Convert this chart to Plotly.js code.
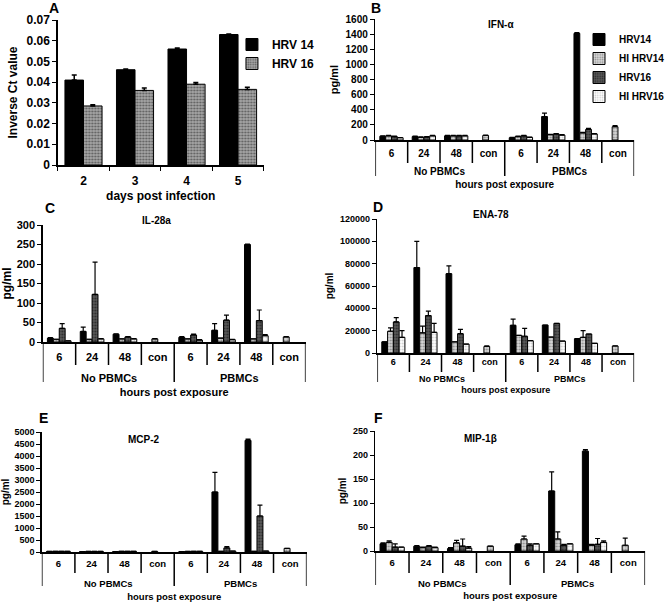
<!DOCTYPE html>
<html>
<head>
<meta charset="utf-8">
<script src="https://cdn.plot.ly/plotly-3.0.1.min.js"></script>
<style>body{margin:0;padding:0;background:#fff;} #chart{width:670px;height:605px;}</style>
</head>
<body>
<div id="chart"></div>
<script>
// ---------- DATA ----------
// Panel A
const daysLabels = ['2', '3', '4', '5'];
const A_HRV14 = [0.041, 0.046, 0.056, 0.063];
const A_HRV14_err = [0.0024, 0.0003, 0.0005, 0.0003];
const A_HRV16 = [0.0285, 0.036, 0.039, 0.0365];
const A_HRV16_err = [0.0006, 0.0012, 0.0008, 0.0010];

// Panels B-F categories
const groupLabels = ['No PBMCs','No PBMCs','No PBMCs','No PBMCs','PBMCs','PBMCs','PBMCs','PBMCs'];
const hourLabels  = ['6','24','48','con','6','24','48','con'];
const seriesNames = ['HRV14','HI HRV14','HRV16','HI HRV16'];

// B: IFN-alpha
const B_HRV14     = [50, 45, 55, null, 30, 310, 1410, null];
const B_HRV14_err = [5, 5, 5, 0, 5, 45, 10, 0];
const B_HIHRV14     = [55, 35, 55, 60, 45, 70, 95, 175];
const B_HIHRV14_err = [5, 5, 5, 5, 5, 5, 5, 15];
const B_HRV16     = [45, 40, 55, null, 55, 80, 140, null];
const B_HRV16_err = [5, 5, 5, 0, 5, 5, 15, 0];
const B_HIHRV16     = [30, 55, 55, null, 35, 65, 80, null];
const B_HIHRV16_err = [3, 5, 5, 0, 3, 5, 5, 0];

// C: IL-28a
const C_HRV14     = [10, 27, 20, null, 12, 30, 250, null];
const C_HRV14_err = [1, 11, 1, 0, 2, 17, 1, 0];
const C_HIHRV14     = [7, 7, 8, 8, 8, 10, 8, 13];
const C_HIHRV14_err = [0, 0, 0, 1, 0, 0, 0, 1];
const C_HRV16     = [35, 122, 13, null, 18, 56, 55, null];
const C_HRV16_err = [12, 83, 1, 0, 2, 13, 27, 0];
const C_HIHRV16     = [3, 8, 8, null, 5, 6, 16, null];
const C_HIHRV16_err = [0, 1, 1, 0, 1, 1, 3, 0];

// D: ENA-78
const D_HRV14     = [10000, 76500, 71000, null, 24800, 25000, 12800, null];
const D_HRV14_err = [0, 23500, 7000, 0, 5500, 0, 0, 0];
const D_HIHRV14     = [19500, 18000, 10000, 5800, 15800, 14300, 14000, 6300];
const D_HIHRV14_err = [3000, 6000, 0, 500, 0, 0, 6000, 0];
const D_HRV16     = [27800, 33500, 17300, null, 15000, 26500, 17000, null];
const D_HRV16_err = [3800, 4000, 3800, 0, 7000, 0, 0, 0];
const D_HIHRV16     = [14000, 18500, 8000, null, 11000, 10700, 8700, null];
const D_HIHRV16_err = [6000, 8000, 0, 0, 0, 0, 0, 0];

// E: MCP-2
const E_HRV14     = [25, 20, 20, null, 20, 2500, 4650, null];
const E_HRV14_err = [0, 0, 0, 0, 0, 820, 50, 0];
const E_HIHRV14     = [30, 25, 30, 25, 25, 30, 30, 150];
const E_HIHRV14_err = [0, 0, 0, 0, 0, 0, 0, 0];
const E_HRV16     = [30, 25, 30, null, 30, 170, 1500, null];
const E_HRV16_err = [0, 0, 0, 0, 0, 60, 450, 0];
const E_HIHRV16     = [30, 25, 30, null, 30, 40, 40, null];
const E_HIHRV16_err = [0, 0, 0, 0, 0, 0, 0, 0];

// F: MIP-1beta
const F_HRV14     = [15, 10, 5, null, 13, 125, 208, null];
const F_HRV14_err = [2, 1, 2, 0, 2, 40, 3, 0];
const F_HIHRV14     = [18, 7, 17, 10, 25, 25, 12, 12];
const F_HIHRV14_err = [3, 1, 5, 0, 6, 15, 2, 15];
const F_HRV16     = [8, 10, 10, null, 12, 12, 14, null];
const F_HRV16_err = [7, 1, 15, 0, 3, 2, 12, 0];
const F_HIHRV16     = [8, 7, 6, null, 15, 15, 18, null];
const F_HIHRV16_err = [0, 1, 3, 0, 0, 0, 3, 0];

// ---------- STYLE ----------
const W = 670, H = 605;
const FONT = 'Liberation Sans, Arial, sans-serif';
const styles = [
  {color: '#000000', pattern: null},
  {color: '#c4c4c4', pattern: {shape: '.', bgcolor: '#d8d8d8', fgcolor: '#8a8a8a', size: 3, solidity: 0.35}},
  {color: '#4a4a4a', pattern: {shape: '.', bgcolor: '#5a5a5a', fgcolor: '#2a2a2a', size: 3, solidity: 0.35}},
  {color: '#ffffff', pattern: {shape: '.', bgcolor: '#ffffff', fgcolor: '#c8c8c8', size: 3, solidity: 0.3}}
];
function dx(a, b) { return [a / W, b / W]; }
function dy(top, bottom) { return [1 - bottom / H, 1 - top / H]; }
function bold(size) { return {family: FONT, size: size, color: '#000', weight: 'bold'}; }

const catKeys = groupLabels.map((g, i) => g + ' ' + hourLabels[i]);

const traces = [];
const aStyle16 = {shape: '.', bgcolor: '#a8a8a8', fgcolor: '#5c5c5c', size: 3, solidity: 0.4};
function errObj(arr, th) {
  return {type: 'data', array: arr, arrayminus: arr.map(() => 0), symmetric: false,
          color: '#000', thickness: th || 1.5, width: 2.5};
}
traces.push({type: 'bar', name: 'HRV 14', x: daysLabels, y: A_HRV14, xaxis: 'x', yaxis: 'y',
  marker: {color: '#000', line: {color: '#000', width: 1}}, error_y: errObj(A_HRV14_err, 1.5), legend: 'legend'});
traces.push({type: 'bar', name: 'HRV 16', x: daysLabels, y: A_HRV16, xaxis: 'x', yaxis: 'y',
  marker: {color: '#a0a0a0', pattern: aStyle16, line: {color: '#000', width: 1}}, error_y: errObj(A_HRV16_err, 1.5), legend: 'legend'});

// panel geometry (pixels): plot box, font sizes, label offsets below the axis line
const panels = [
  {ax: 2, name: 'IFN-α', letter: 'B', box: [377, 637, 19, 140], range: [0, 1600], dtick: 200, fs: 10, yfs: 10,
   data: [[B_HRV14, B_HRV14_err], [B_HIHRV14, B_HIHRV14_err], [B_HRV16, B_HRV16_err], [B_HIHRV16, B_HIHRV16_err]],
   legend: true, off: {inner: 3, shortLen: 23, group: 32, longLen: 36, title: 23}, titlePos: [503, 25], letterPos: [378, 8]},
  {ax: 3, name: 'IL-28a', letter: 'C', box: [43, 307, 225, 342], range: [0, 300], dtick: 50, fs: 11, yfs: 11,
   data: [[C_HRV14, C_HRV14_err], [C_HIHRV14, C_HIHRV14_err], [C_HRV16, C_HRV16_err], [C_HIHRV16, C_HIHRV16_err]],
   off: {inner: 4, shortLen: 23, group: 36, longLen: 40, title: 26}, titlePos: [157, 220], letterPos: [50, 208]},
  {ax: 4, name: 'ENA-78', letter: 'D', box: [379, 637, 219, 353], range: [0, 120000], dtick: 20000, fs: 9, yfs: 9, fmt: 'd',
   data: [[D_HRV14, D_HRV14_err], [D_HIHRV14, D_HIHRV14_err], [D_HRV16, D_HRV16_err], [D_HIHRV16, D_HIHRV16_err]],
   off: {inner: 0, shortLen: 19, group: 26, longLen: 29, title: 20}, titlePos: [493, 215], letterPos: [380, 207]},
  {ax: 5, name: 'MCP-2', letter: 'E', box: [42, 308, 432, 552], range: [0, 5000], dtick: 500, fs: 9.5, yfs: 9,
   data: [[E_HRV14, E_HRV14_err], [E_HIHRV14, E_HIHRV14_err], [E_HRV16, E_HRV16_err], [E_HIHRV16, E_HIHRV16_err]],
   off: {inner: 2, shortLen: 21, group: 31, longLen: 34, title: 25}, titlePos: [145, 439], letterPos: [44, 418]},
  {ax: 6, name: 'MIP-1β', letter: 'F', box: [377, 648, 431, 551], range: [0, 250], dtick: 50, fs: 9.5, yfs: 9,
   data: [[F_HRV14, F_HRV14_err], [F_HIHRV14, F_HIHRV14_err], [F_HRV16, F_HRV16_err], [F_HIHRV16, F_HIHRV16_err]],
   off: {inner: 2, shortLen: 22, group: 32, longLen: 34, title: 25}, titlePos: [483, 438], letterPos: [380, 418]}
];

const layout = {
  width: W, height: H, margin: {l: 0, r: 0, t: 0, b: 0},
  paper_bgcolor: '#fff', plot_bgcolor: '#fff',
  barmode: 'group', bargap: 0.28, bargroupgap: 0,
  font: {family: FONT, color: '#000'},
  xaxis: {domain: dx(58, 265), anchor: 'y', type: 'category', showgrid: false, zeroline: false,
    showline: true, linecolor: '#000', linewidth: 1.5, ticks: 'outside', tickson: 'boundaries', ticklen: 4,
    tickcolor: '#000', tickfont: bold(12), ticklabelstandoff: 4,
    title: {text: 'days post infection', font: bold(12), standoff: 4}, fixedrange: true},
  yaxis: {domain: dy(20, 165), range: [0, 0.07], dtick: 0.01, anchor: 'x', showgrid: false, zeroline: false,
    showline: true, linecolor: '#000', linewidth: 1.5, ticks: 'outside', ticklen: 4, tickcolor: '#000',
    tickfont: bold(12), title: {text: 'Inverse Ct value', font: bold(12), standoff: 6}, fixedrange: true},
  legend: {x: 233 / W, y: 1 - 30 / H, xanchor: 'left', yanchor: 'top', bgcolor: 'rgba(0,0,0,0)',
    font: bold(12), tracegroupgap: 0, itemwidth: 30},
  legend2: {x: 582 / W, y: 1 - 25 / H, xanchor: 'left', yanchor: 'top', bgcolor: 'rgba(0,0,0,0)',
    font: bold(10), tracegroupgap: 0, itemwidth: 30},
  shapes: [],
  annotations: [{text: 'A', x: 54 / W, y: 1 - 8 / H, xref: 'paper', yref: 'paper', showarrow: false,
    xanchor: 'center', yanchor: 'middle', font: bold(14)}]
};

panels.forEach(p => {
  const [x0, x1, yTop, yBot] = p.box;
  const xa = 'xaxis' + p.ax, ya = 'yaxis' + p.ax;
  p.data.forEach((d, i) => {
    const st = styles[i];
    const m = {color: st.color, line: {color: '#000', width: 1}};
    if (st.pattern) m.pattern = st.pattern;
    traces.push({type: 'bar', name: seriesNames[i], x: catKeys, y: d[0],
      xaxis: 'x' + p.ax, yaxis: 'y' + p.ax, marker: m, error_y: errObj(d[1], 1.2),
      showlegend: !!p.legend, legend: 'legend2'});
  });
  layout[xa] = {domain: dx(x0, x1), anchor: 'y' + p.ax, type: 'category', categoryorder: 'array',
    categoryarray: catKeys, tickmode: 'array', tickvals: catKeys, ticktext: hourLabels,
    showgrid: false, zeroline: false, showline: true, linecolor: '#000', linewidth: 1.5, ticks: '',
    tickfont: bold(p.fs), ticklabelstandoff: p.off.inner, range: [-0.5, catKeys.length - 0.5],
    title: {text: 'hours post exposure', font: bold(p.fs), standoff: p.off.title}, fixedrange: true};
  layout[ya] = {domain: dy(yTop, yBot), range: p.range, dtick: p.dtick, anchor: 'x' + p.ax,
    showgrid: false, zeroline: false, showline: true, linecolor: '#000', linewidth: 1.5,
    ticks: 'outside', ticklen: 4, tickcolor: '#000', tickfont: bold(p.yfs), tickformat: p.fmt || '',
    title: {text: 'pg/ml', font: bold(p.yfs + 1), standoff: 4}, fixedrange: true};
  // separators between categories: short inside a group, long at group edges
  const axisY = 1 - yBot / H;
  for (let i = 0; i <= catKeys.length; i++) {
    const isEdge = i === 0 || i === catKeys.length || groupLabels[i] !== groupLabels[i - 1];
    const len = isEdge ? p.off.longLen : p.off.shortLen;
    layout.shapes.push({type: 'line', xref: 'x' + p.ax, yref: 'paper', x0: i - 0.5, x1: i - 0.5,
      y0: axisY, y1: axisY - len / H, line: {color: '#000', width: 1.5}});
  }
  // group labels centred under their categories
  const groups = [...new Set(groupLabels)];
  groups.forEach(g => {
    const idx = groupLabels.map((v, i) => v === g ? i : -1).filter(i => i >= 0);
    const mid = (idx[0] + idx[idx.length - 1]) / 2;
    layout.annotations.push({text: g, xref: 'x' + p.ax, yref: 'paper', x: mid, y: axisY - p.off.group / H,
      showarrow: false, xanchor: 'center', yanchor: 'middle', font: bold(p.fs)});
  });
  layout.annotations.push({text: p.name, xref: 'paper', yref: 'paper', x: p.titlePos[0] / W, y: 1 - p.titlePos[1] / H,
    showarrow: false, xanchor: 'center', yanchor: 'middle', font: bold(10)});
  layout.annotations.push({text: p.letter, xref: 'paper', yref: 'paper', x: p.letterPos[0] / W, y: 1 - p.letterPos[1] / H,
    showarrow: false, xanchor: 'center', yanchor: 'middle', font: bold(14)});
});

Plotly.newPlot('chart', traces, layout, {displayModeBar: false, staticPlot: true});
</script>
</body>
</html>
